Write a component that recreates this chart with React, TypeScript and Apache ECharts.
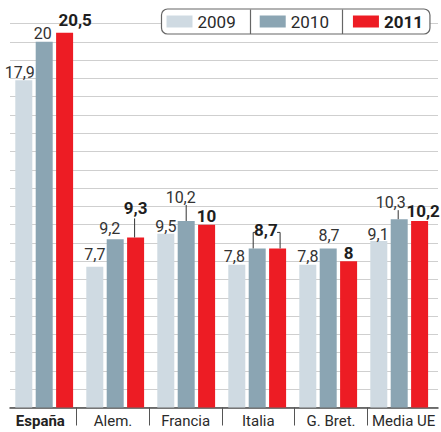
import React, { useEffect, useRef } from "react";
import * as echarts from "echarts";

const categories = ["España", "Alem.", "Francia", "Italia", "G. Bret.", "Media UE"];
const years = ["2009", "2010", "2011"];
const values2009 = [17.9, 7.7, 9.5, 7.8, 7.8, 9.1];
const values2010 = [20, 9.2, 10.2, 8.7, 8.7, 10.3];
const values2011 = [20.5, 9.3, 10, 8.7, 8, 10.2];
const yTicks = [0, 21, 1]; // min, max, interval

// label placement tweaks (dx, dy in px); null = label not shown
const labelOffsets2009 = [[-4, 0], [0, -4], [0, 1], [-2.5, -0.5], [0, -0.5], [-0.7, 1.7]];
const labelOffsets2010 = [[-1.5, 0], [-5.5, -3], [-5.5, -15], null, [0.8, -5], [-8.5, -9]];
const labelOffsets2011 = [[10.5, -4], [0, -21], [0, -0.5], [-11.7, -10], [0, 0], [3.5, -1.5]];

// leader lines: [category, series, dx, length, hook]
const leaders = [
  [1, 2, -1, 19, 0],
  [2, 1, 0, 16, 0],
  [3, 1, -4, 16, 3],
  [3, 2, 2.5, 16, -3],
  [5, 1, -1, 9, 0],
];

const FONT = "Roboto, 'DejaVu Sans Condensed', sans-serif";
const COLORS = ["#cfdae2", "#8ba5b3", "#ed1c24"];
const BAR_W = 17;
const BAR_STEP = BAR_W * 1.2;

const fmt = (v: number) => String(v).replace(".", ",");

function buildData(vals: number[], offs: (number[] | null)[]) {
  return vals.map((v, i) => {
    const o = offs[i];
    return o ? { value: v, label: { offset: o } } : { value: v, label: { show: false } };
  });
}

export default function App() {
  const ref = useRef<HTMLDivElement>(null);
  useEffect(() => {
    if (!ref.current) return;
    const chart = echarts.init(ref.current, undefined, { renderer: "svg" });
    const allVals = [values2009, values2010, values2011];
    const allOffs = [labelOffsets2009, labelOffsets2010, labelOffsets2011];
    const gTop = 23.5;
    const gBottom = 24.5;
    const option: any = {
      animation: false,
      backgroundColor: "#ffffff",
      grid: [
        { left: 8.7, right: 6.3, top: gTop, bottom: gBottom },
        { left: 10, right: 3, top: gTop, bottom: gBottom },
        { left: 4, right: 1, top: gTop, bottom: gBottom },
      ],
      xAxis: [
        {
          type: "category",
          gridIndex: 0,
          data: categories,
          axisLine: { show: false },
          axisTick: { show: false },
          axisLabel: { show: false },
          splitLine: { show: false },
        },
        {
          type: "value",
          gridIndex: 1,
          min: 0,
          max: 1,
          axisLine: { show: true, lineStyle: { color: "#4a4a4a", width: 1.5 } },
          axisTick: { show: false },
          axisLabel: { show: false },
          splitLine: { show: false },
        },
        {
          type: "value",
          gridIndex: 2,
          min: 0,
          max: categories.length,
          interval: 1,
          axisLine: { show: false },
          axisTick: {
            show: true,
            length: 18,
            customValues: categories.slice(1).map((_, i) => i + 1),
            lineStyle: { color: "#555555", width: 1 },
          },
          axisLabel: {
            show: true,
            margin: 6,
            customValues: categories.map((_, i) => i + 0.5),
            formatter: (v: number) => {
              const i = Math.floor(v);
              return i === 0 ? `{b|${categories[i]}}` : `{n|${categories[i]}}`;
            },
            rich: {
              b: { fontFamily: FONT, fontSize: 15, fontWeight: "bold", color: "#222222" },
              n: { fontFamily: FONT, fontSize: 15, color: "#2a2a2a" },
            },
          },
          splitLine: { show: false },
        },
      ],
      yAxis: [
        { type: "value", gridIndex: 0, min: yTicks[0], max: yTicks[1], interval: yTicks[2], show: false },
        {
          type: "value",
          gridIndex: 1,
          min: yTicks[0],
          max: yTicks[1],
          interval: yTicks[2],
          axisLine: { show: false },
          axisTick: { show: false },
          axisLabel: { show: false },
          splitLine: { show: true, lineStyle: { color: "#cfcfcf", width: 1.2 } },
        },
        { type: "value", gridIndex: 2, min: 0, max: 1, show: false },
      ],
      legend: {
        left: 161.5,
        top: 9,
        orient: "horizontal",
        itemWidth: 26,
        itemHeight: 12,
        itemGap: 24,
        icon: "rect",
        padding: [4, 7, 4, 5],
        backgroundColor: "#ffffff",
        borderColor: "#666666",
        borderWidth: 1.2,
        borderRadius: 6,
        textStyle: { fontFamily: FONT, fontSize: 17, color: "#2a2a2a" },
        data: [
          { name: years[0] },
          { name: years[1] },
          { name: years[2], textStyle: { fontWeight: "bold", color: "#1e1e1e" } },
        ],
      },
      graphic: [
        { type: "line", shape: { x1: 250.5, y1: 9.5, x2: 250.5, y2: 34 }, style: { stroke: "#666666", lineWidth: 1.2 }, z: 100 },
        { type: "line", shape: { x1: 342.5, y1: 9.5, x2: 342.5, y2: 34 }, style: { stroke: "#666666", lineWidth: 1.2 }, z: 100 },
      ],
      series: [
        ...years.map((y, s) => ({
          name: y,
          type: "bar",
          xAxisIndex: 0,
          yAxisIndex: 0,
          barWidth: BAR_W,
          barGap: "20%",
          itemStyle: { color: COLORS[s] },
          data: buildData(allVals[s], allOffs[s]),
          z: 3,
          label: {
            show: true,
            position: "top",
            distance: 0,
            fontFamily: FONT,
            fontSize: s === 2 ? 17 : 16,
            fontWeight: s === 2 ? "bold" : "normal",
            color: s === 2 ? "#1e1e1e" : "#333333",
            formatter: (p: any) => fmt(p.value),
          },
        })),
        {
          type: "custom",
          xAxisIndex: 0,
          yAxisIndex: 0,
          z: 5,
          silent: true,
          data: leaders.map((l) => [l[0], allVals[l[1]][l[0]], l[1], l[2], l[3], l[4]]),
          renderItem: (params: any, api: any) => {
            const cat = api.value(0);
            const val = api.value(1);
            const s = api.value(2);
            const dx = api.value(3);
            const len = api.value(4);
            const hook = api.value(5);
            const p = api.coord([cat, val]);
            const x = p[0] + (s - 1) * BAR_STEP + dx;
            const yTop = p[1] - len;
            const pts = hook ? [[x + hook, yTop], [x, yTop], [x, p[1]]] : [[x, yTop], [x, p[1]]];
            return {
              type: "polyline",
              shape: { points: pts },
              style: { stroke: "#333333", lineWidth: 1, fill: null },
            };
          },
        },
      ],
    };
    chart.setOption(option);
    return () => chart.dispose();
  }, []);
  return <div ref={ref} style={{ position: "fixed", left: 0, top: 0, width: 441, height: 432 }} />;
}
